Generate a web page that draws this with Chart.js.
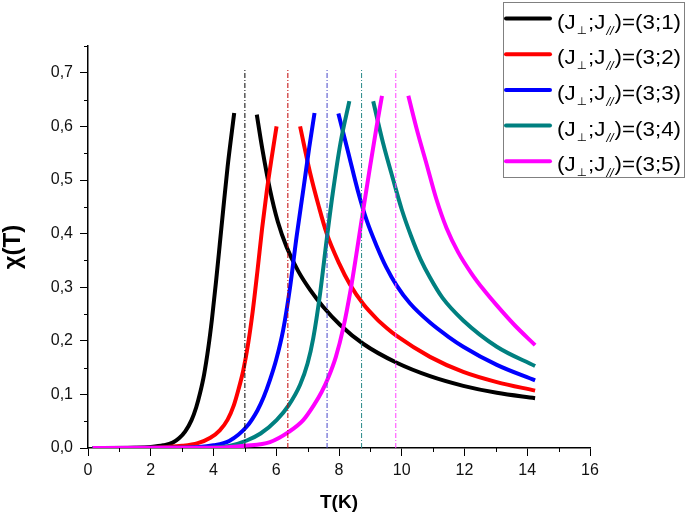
<!DOCTYPE html>
<html>
<head>
<meta charset="utf-8">
<script src="https://cdn.jsdelivr.net/npm/chart.js@4.4.1/dist/chart.umd.min.js"></script>
<style>
  html, body { margin: 0; padding: 0; background: #fff; }
  #wrap { width: 685px; height: 514px; }
</style>
</head>
<body>
<div id="wrap"><canvas id="chart" width="685" height="514"></canvas></div>
<script>
// Series labels and colours
const seriesJ = [1, 2, 3, 4, 5];
const seriesColors = ['#000000', '#ff0000', '#0000ff', '#008080', '#ff00ff'];
const dashColors = ['#000000', '#c00000', '#4848c8', '#288888', '#ff40ff'];

// Critical temperatures (vertical dash-dot lines)
const tcValues = [5.0, 6.37, 7.62, 8.72, 9.81];
const tcTop = 0.707;

// Minor tick positions
const minorX = [1, 3, 5, 7, 9, 11, 13, 15];
const minorY = [0.05, 0.15, 0.25, 0.35, 0.45, 0.55, 0.65, 0.75];

// (3;1) black
const riseT1 = [0.15, 1.0, 1.5, 2.0, 2.4, 2.7, 2.9, 3.1, 3.3, 3.45, 3.57, 3.7, 3.83, 3.95, 4.08, 4.2, 4.31, 4.45, 4.66];
const riseChi1 = [0, 0, 0.0005, 0.002, 0.005, 0.010, 0.018, 0.031, 0.052, 0.076, 0.102, 0.137, 0.185, 0.24, 0.31, 0.38, 0.445, 0.525, 0.625];
const fallT1 = [5.38, 5.55, 5.8, 6.05, 6.33, 6.7, 7.08, 7.5, 8.03, 8.78, 9.84, 10.9, 11.96, 13.03, 14.25];
const fallChi1 = [0.622, 0.56, 0.482, 0.422, 0.375, 0.33, 0.295, 0.263, 0.23, 0.194, 0.159, 0.134, 0.116, 0.103, 0.093];

// (3;2) red
const riseT2 = [0.15, 2.0, 3.0, 3.5, 3.9, 4.2, 4.45, 4.65, 4.8, 4.95, 5.1, 5.25, 5.4, 5.55, 5.7, 5.85, 6.01];
const riseChi2 = [0, 0.0005, 0.004, 0.009, 0.019, 0.033, 0.053, 0.08, 0.11, 0.145, 0.193, 0.255, 0.33, 0.41, 0.48, 0.54, 0.60];
const fallT2 = [6.76, 7.08, 7.35, 7.61, 8.0, 8.35, 8.78, 9.2, 9.52, 9.84, 10.9, 11.96, 13.03, 14.25];
const fallChi2 = [0.60, 0.513, 0.452, 0.40, 0.345, 0.305, 0.268, 0.241, 0.224, 0.209, 0.17, 0.142, 0.123, 0.107];

// (3;3) blue
const riseT3 = [0.15, 3.0, 4.0, 4.5, 5.06, 5.4, 5.6, 5.8, 6.0, 6.22, 6.44, 6.65, 6.87, 7.05, 7.22];
const riseChi3 = [0, 0.0005, 0.005, 0.013, 0.04, 0.07, 0.095, 0.127, 0.165, 0.22, 0.30, 0.395, 0.485, 0.56, 0.625];
const fallT3 = [7.98, 8.3, 8.6, 8.88, 9.2, 9.5, 9.84, 10.26, 10.9, 11.5, 11.96, 13.03, 14.25];
const fallChi3 = [0.624, 0.55, 0.48, 0.425, 0.377, 0.338, 0.303, 0.27, 0.234, 0.207, 0.189, 0.155, 0.126];

// (3;4) teal
const riseT4 = [0.15, 3.5, 4.5, 5.06, 5.5, 6.01, 6.4, 6.76, 7.0, 7.18, 7.39, 7.61, 7.8, 8.05, 8.33];
const riseChi4 = [0, 0.0005, 0.004, 0.014, 0.027, 0.052, 0.08, 0.118, 0.158, 0.205, 0.285, 0.39, 0.475, 0.57, 0.647];
const fallT4 = [9.09, 9.4, 9.73, 10.0, 10.3, 10.6, 10.9, 11.3, 11.96, 13.03, 14.25];
const fallChi4 = [0.647, 0.57, 0.50, 0.445, 0.395, 0.352, 0.318, 0.28, 0.238, 0.189, 0.153];

// (3;5) magenta
const riseT5 = [0.15, 4.2, 5.0, 5.8, 6.4, 6.86, 7.2, 7.45, 7.65, 7.9, 8.14, 8.37, 8.55, 8.72, 8.99, 9.2, 9.37];
const riseChi5 = [0, 0.0005, 0.004, 0.011, 0.03, 0.052, 0.08, 0.105, 0.13, 0.17, 0.225, 0.295, 0.36, 0.425, 0.525, 0.60, 0.657];
const fallT5 = [10.21, 10.5, 10.79, 11.1, 11.43, 11.8, 12.23, 12.6, 13.03, 13.6, 14.25];
const fallChi5 = [0.657, 0.59, 0.53, 0.465, 0.41, 0.365, 0.325, 0.296, 0.266, 0.229, 0.192];

const riseT = [riseT1, riseT2, riseT3, riseT4, riseT5];
const riseChi = [riseChi1, riseChi2, riseChi3, riseChi4, riseChi5];
const fallT = [fallT1, fallT2, fallT3, fallT4, fallT5];
const fallChi = [fallChi1, fallChi2, fallChi3, fallChi4, fallChi5];

function toPoints(xs, ys) {
    return xs.map((x, i) => ({ x: x, y: ys[i] }));
}

// Build datasets: both branches of each curve, split at Tc by a null point
const datasets = [];
for (let i = 0; i < seriesJ.length; i++) {
    const data = toPoints(riseT[i], riseChi[i])
        .concat([{ x: tcValues[i], y: null }])
        .concat(toPoints(fallT[i], fallChi[i]));
    datasets.push({
        data: data,
        borderColor: seriesColors[i],
        borderWidth: 4,
        pointRadius: 0,
        cubicInterpolationMode: 'monotone',
        spanGaps: false,
        order: 10 - i
    });
}
for (let i = 0; i < tcValues.length; i++) {
    datasets.push({
        data: [{ x: tcValues[i], y: 0 }, { x: tcValues[i], y: tcTop }],
        borderColor: dashColors[i],
        borderWidth: 1,
        borderDash: [5, 2, 1, 2],
        pointRadius: 0,
        order: 0
    });
}

// Small ticks between the labelled ones
const minorTicks = {
    id: 'minorTicks',
    afterDraw(chart) {
        const ctx = chart.ctx;
        const x = chart.scales.x, y = chart.scales.y;
        ctx.save();
        ctx.strokeStyle = '#000';
        ctx.lineWidth = 1;
        ctx.beginPath();
        minorX.forEach(v => {
            const px = Math.round(x.getPixelForValue(v)) + 0.5;
            ctx.moveTo(px, y.bottom);
            ctx.lineTo(px, y.bottom + 4);
        });
        minorY.forEach(v => {
            const py = Math.round(y.getPixelForValue(v)) + 0.5;
            ctx.moveTo(x.left - 4, py);
            ctx.lineTo(x.left, py);
        });
        ctx.stroke();
        ctx.restore();
    }
};

function drawLabel(ctx, x, base, n) {
    const parts = [
        { t: '(J', f: '21px "Liberation Sans"', dy: 0 },
        { t: '\u22A5', f: '11px "DejaVu Sans"', dy: 5 },
        { t: ';J', f: '21px "Liberation Sans"', dy: 0 },
        { t: '//', f: 'italic 12px "Liberation Sans"', dy: 6 },
        { t: ')=(3;' + n + ')', f: '21px "Liberation Sans"', dy: 0 }
    ];
    let w = 0;
    parts.forEach(p => { ctx.font = p.f; p.w = ctx.measureText(p.t).width + (p.dy ? 2 : 0); w += p.w; });
    ctx.save();
    ctx.translate(x, base);
    ctx.scale(124 / w, 1);
    ctx.fillStyle = '#000';
    ctx.textBaseline = 'alphabetic';
    let cx = 0;
    parts.forEach(p => {
        ctx.font = p.f;
        ctx.fillText(p.t, cx + (p.dy ? 1 : 0), p.dy);
        cx += p.w;
    });
    ctx.restore();
}

// Boxed legend with subscripts
const boxLegend = {
    id: 'boxLegend',
    afterDraw(chart) {
        const ctx = chart.ctx;
        ctx.save();
        ctx.strokeStyle = '#808080';
        ctx.lineWidth = 1;
        ctx.strokeRect(503.5, 2.5, 181, 175);
        seriesJ.forEach((n, i) => {
            const y = 18.5 + i * 35.7;
            ctx.strokeStyle = seriesColors[i];
            ctx.lineWidth = 4;
            ctx.lineCap = 'round';
            ctx.beginPath();
            ctx.moveTo(506, y);
            ctx.lineTo(550, y);
            ctx.stroke();
            drawLabel(ctx, 557, y + 10, n);
        });
        ctx.restore();
    }
};

Chart.defaults.font.family = '"Liberation Sans", Arial, sans-serif';
Chart.defaults.color = '#000';

const chart = new Chart(document.getElementById('chart').getContext('2d'), {
    type: 'line',
    data: { datasets: datasets },
    options: {
        responsive: false,
        animation: false,
        layout: { padding: { left: 0, top: 46, right: 95, bottom: 0 } },
        plugins: {
            legend: { display: false },
            tooltip: { enabled: false }
        },
        scales: {
            x: {
                type: 'linear',
                min: 0,
                max: 16,
                afterFit: s => { s.height = 66; },
                ticks: { stepSize: 2, font: { size: 16 }, padding: 5, color: '#111' },
                grid: { drawOnChartArea: false, tickLength: 8, color: '#000', lineWidth: 1 },
                border: { display: true, color: '#000', width: 1.5 },
                title: {
                    display: true,
                    text: 'T(K)',
                    font: { size: 19, weight: 'bold', lineHeight: 1 },
                    padding: { top: 0, bottom: 2 }
                }
            },
            y: {
                type: 'linear',
                min: 0,
                max: 0.75,
                afterFit: s => { s.width = 88; },
                ticks: {
                    stepSize: 0.1,
                    includeBounds: false,
                    font: { size: 16 },
                    padding: 7,
                    color: '#111',
                    callback: v => v.toFixed(1).replace('.', ',')
                },
                grid: { drawOnChartArea: false, tickLength: 8, color: '#000', lineWidth: 1 },
                border: { display: true, color: '#000', width: 1.5 },
                title: {
                    display: true,
                    text: '\u03C7(T)',
                    font: { size: 24, weight: 'bold', lineHeight: 1 },
                    padding: { top: 1, bottom: 0 }
                }
            }
        }
    },
    plugins: [minorTicks, boxLegend]
});
</script>
</body>
</html>
